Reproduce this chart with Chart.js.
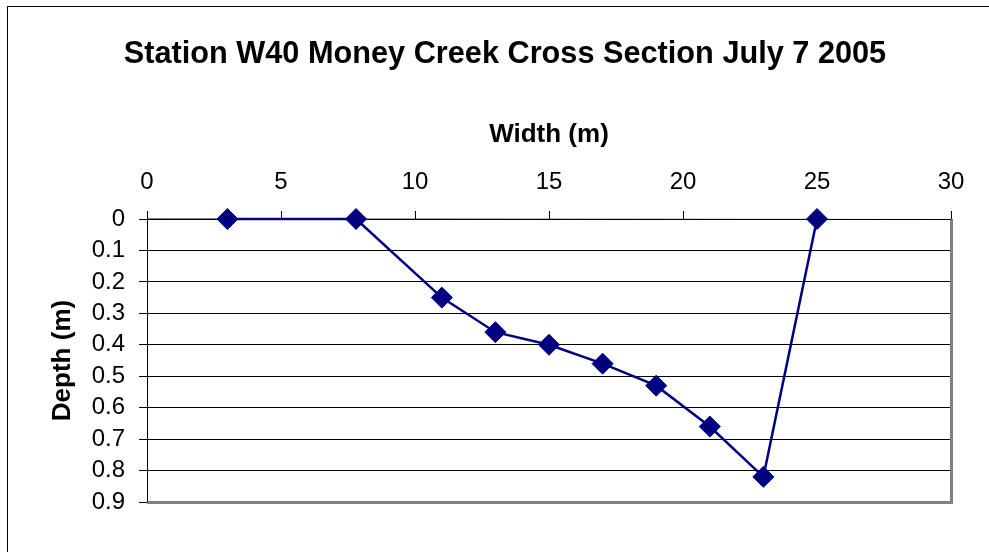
<!DOCTYPE html>
<html>
<head>
<meta charset="utf-8">
<title>Station W40 Money Creek Cross Section</title>
<script src="https://cdn.jsdelivr.net/npm/chart.js@4.4.1/dist/chart.umd.min.js"></script>
<style>
  html, body { margin: 0; padding: 0; background: #fff; overflow: hidden; }
  canvas { display: block; }
</style>
</head>
<body>
<canvas id="graphique" width="1010" height="552"></canvas>
<script>
// --- donnees ---
const titreGraphique = "Station W40 Money Creek Cross Section July 7 2005";
const titreX = "Width (m)";
const titreY = "Depth (m)";
const largeurs = [3, 7.8, 11, 13, 15, 17, 19, 21, 23, 25];      // Width (m)
const profondeurs = [0, 0, 0.25, 0.36, 0.40, 0.46, 0.53, 0.66, 0.82, 0]; // Depth (m)
const ticksX = [0, 5, 10, 15, 20, 25, 30];
const ticksY = [0, 0.1, 0.2, 0.3, 0.4, 0.5, 0.6, 0.7, 0.8, 0.9];

const police = "'Liberation Sans', Arial, sans-serif";
const marine = "#000080";

// cadre exterieur, titre principal et bordure de la zone de trace
const cadres = {
  id: "cadres",
  beforeDraw(chart) {
    const ctx = chart.ctx;
    ctx.save();
    ctx.fillStyle = "#fff";
    ctx.fillRect(0, 0, chart.width, chart.height);
    ctx.strokeStyle = "#000";
    ctx.lineWidth = 1;
    ctx.strokeRect(7.5, 6.5, chart.width - 15, chart.height + 20);
    // titre centre sur le cadre exterieur (7 -> 1003)
    ctx.fillStyle = "#000";
    ctx.font = "bold 30.7px " + police;
    ctx.textAlign = "center";
    ctx.textBaseline = "middle";
    ctx.fillText(titreGraphique, 505, 55);
    ctx.restore();
  },
  beforeDatasetsDraw(chart) {
    const { ctx, chartArea: a } = chart;
    ctx.save();
    ctx.strokeStyle = "#808080";
    ctx.lineWidth = 3;
    ctx.beginPath();
    ctx.moveTo(a.left, a.bottom + 0.5);
    ctx.lineTo(a.right + 0.5, a.bottom + 0.5);
    ctx.lineTo(a.right + 0.5, a.top);
    ctx.stroke();
    ctx.strokeStyle = "#000";
    ctx.lineWidth = 1;
    ctx.beginPath();
    ctx.moveTo(a.left + 0.5, a.bottom);
    ctx.lineTo(a.left + 0.5, a.top);
    ctx.lineTo(a.right, a.top + 0.5);
    ctx.stroke();
    ctx.restore();
  }
};

new Chart(document.getElementById("graphique").getContext("2d"), {
  type: "scatter",
  data: {
    datasets: [{
      label: "Depth",
      data: largeurs.map((x, i) => ({ x: x, y: profondeurs[i] })),
      showLine: true,
      borderColor: marine,
      borderWidth: 2.5,
      backgroundColor: marine,
      pointStyle: "rectRot",
      pointRadius: 10.5,
      pointHoverRadius: 10.5,
      pointBorderWidth: 1,
      pointBorderColor: marine,
      pointBackgroundColor: marine,
      tension: 0,
      clip: false
    }]
  },
  options: {
    responsive: false,
    animation: false,
    layout: { padding: { left: 0, right: 59, top: 0, bottom: 50 } },
    plugins: {
      legend: { display: false },
      tooltip: { enabled: false },
      title: { display: false }
    },
    scales: {
      x: {
        type: "linear",
        position: "top",
        min: 0,
        max: 30,
        afterBuildTicks: (axe) => { axe.ticks = ticksX.map(v => ({ value: v })); },
        afterFit: (axe) => { axe.height = 219; },
        ticks: {
          color: "#000",
          font: { family: police, size: 24 },
          padding: 14,
          maxRotation: 0,
          autoSkip: false,
          callback: (v) => String(v)
        },
        grid: { display: true, drawOnChartArea: false, drawTicks: true, tickLength: 8, color: "#000" },
        border: { display: false },
        title: {
          display: true,
          text: titreX,
          color: "#000",
          font: { family: police, size: 26, weight: "bold" },
          padding: { top: 119, bottom: 0 }
        }
      },
      y: {
        type: "linear",
        reverse: true,
        min: 0,
        max: 0.9,
        afterBuildTicks: (axe) => { axe.ticks = ticksY.map(v => ({ value: v })); },
        afterFit: (axe) => { axe.width = 147; },
        ticks: {
          color: "#000",
          font: { family: police, size: 24 },
          padding: 14,
          autoSkip: false,
          callback: (v) => String(Math.round(v * 10) / 10)
        },
        grid: { display: true, drawOnChartArea: true, drawTicks: true, tickLength: 8, color: "#000", lineWidth: 1 },
        border: { display: false },
        title: {
          display: true,
          text: titreY,
          color: "#000",
          font: { family: police, size: 26, weight: "bold" },
          padding: { top: 47, bottom: 0 }
        }
      }
    }
  },
  plugins: [cadres]
});
</script>
</body>
</html>
